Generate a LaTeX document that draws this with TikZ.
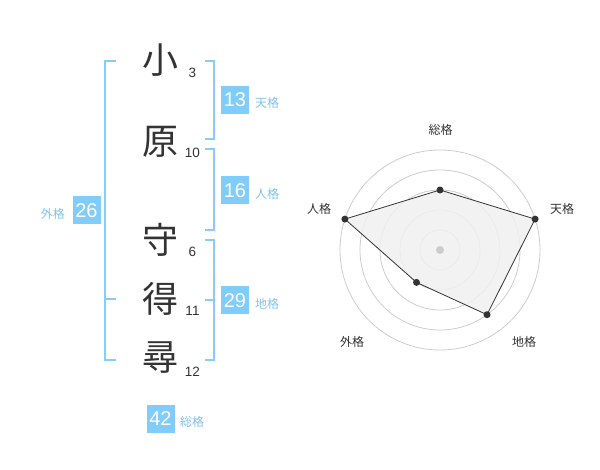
\documentclass[tikz,border=0pt]{standalone}
\usepackage{fontspec}
\setmainfont{Liberation Sans}
\newfontfamily\cjk{Noto Sans CJK JP}
\definecolor{boxblue}{RGB}{128,204,250}
\definecolor{lineblue}{RGB}{135,205,248}
\definecolor{labblue}{RGB}{125,195,240}
\definecolor{dark}{RGB}{51,51,51}
\definecolor{ring}{RGB}{204,204,204}
\definecolor{area}{RGB}{240,240,240}
\tikzset{
  kanji/.style={inner sep=0pt, text=dark, font=\cjk\fontsize{36}{36}\selectfont},
  strokes/.style={inner sep=0pt, text=dark, font=\fontsize{13.5}{14}\selectfont},
  valbox/.style={fill=boxblue, text=white, minimum size=28pt, inner sep=0pt, font=\fontsize{20}{20}\selectfont},
  kaku/.style={inner sep=0pt, text=labblue, font=\cjk\fontsize{12}{12}\selectfont},
  bracket/.style={draw=lineblue, line width=2pt},
  radlab/.style={inner sep=0pt, text=dark, font=\cjk\fontsize{12}{12}\selectfont},
  ringline/.style={draw=ring, line width=0.8pt},
  vdot/.style={circle, fill=dark, inner sep=0pt, minimum size=7pt},
}
\begin{document}
\begin{tikzpicture}[x=1pt,y=-1pt]
\useasboundingbox (0,0) rectangle (600,470);
% characters
\node[kanji] (c1) at (160,60) {小};
\node[kanji] (c2) at (160,141.5) {原};
\node[kanji] (c3) at (160,240) {守};
\node[kanji] (c4) at (160,299) {得};
\node[kanji] (c5) at (160,357.5) {尋};
\node[strokes] (n1) at (192.5,72.5) {3};
\node[strokes] (n2) at (192.5,153) {10};
\node[strokes] (n3) at (192.5,251.7) {6};
\node[strokes] (n4) at (192.5,311) {11};
\node[strokes] (n5) at (192.5,372) {12};
% brackets
\draw[bracket] (205,61) -- (214,61) -- (214,139) -- (205,139);
\draw[bracket] (205,149) -- (214,149) -- (214,230) -- (205,230);
\draw[bracket] (205,240) -- (214,240) -- (214,360) -- (205,360);
\draw[bracket] (205,300) -- (214,300);
\draw[bracket] (116,61) -- (105,61) -- (105,360) -- (116,360);
\draw[bracket] (105,299.5) -- (116,299.5);
% values
\node[valbox] (ten) at (235,100) {13};
\node[kaku, anchor=west] (tenl) at (255,103) {天格};
\node[valbox] (jin) at (235,190.5) {16};
\node[kaku, anchor=west] (jinl) at (255,193.5) {人格};
\node[valbox] (chi) at (235,300.5) {29};
\node[kaku, anchor=west] (chil) at (255,303.5) {地格};
\node[valbox] (gai) at (86.5,210.5) {26};
\node[kaku, anchor=east] (gail) at (65,213.5) {外格};
\node[valbox] (sou) at (160.5,419) {42};
\node[kaku, anchor=west] (soul) at (180,422) {総格};
% radar
\coordinate (O) at (440,250);
\foreach \r in {20,40,60,80,100} \draw[ringline] (O) circle[radius=\r];
\coordinate (pS) at (440,190);
\coordinate (pT) at (535.1,219.1);
\coordinate (pC) at (487.0,314.7);
\coordinate (pG) at (416.5,282.4);
\coordinate (pJ) at (344.9,219.1);
\fill[area, opacity=0.85] (pS) -- (pT) -- (pC) -- (pG) -- (pJ) -- cycle;
\draw[dark, line width=0.8pt] (pS) -- (pT) -- (pC) -- (pG) -- (pJ) -- cycle;
\node[circle, fill=ring, inner sep=0pt, minimum size=8pt] (ctr) at (O) {};
\foreach \p in {pS,pT,pC,pG,pJ} \node[vdot] at (\p) {};
\node[radlab] (rS) at (440.7,130) {総格};
\node[radlab] (rT) at (562,209) {天格};
\node[radlab] (rJ) at (319,209) {人格};
\node[radlab] (rG) at (352,342) {外格};
\node[radlab] (rC) at (524,342) {地格};
\end{tikzpicture}
\end{document}
